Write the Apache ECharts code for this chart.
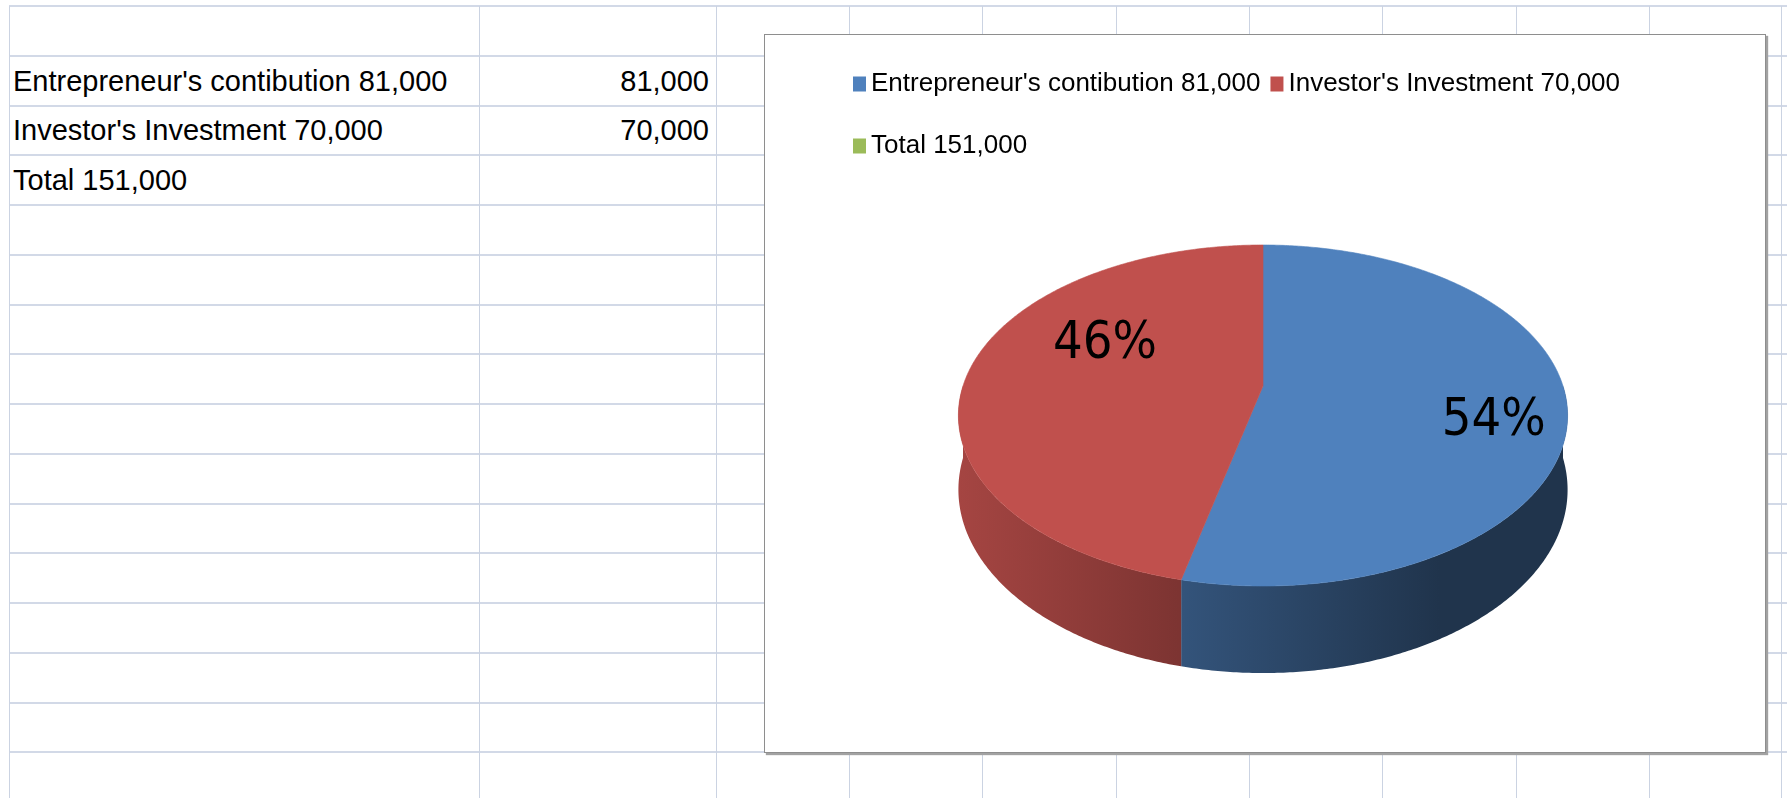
<!DOCTYPE html>
<html>
<head>
<meta charset="utf-8">
<title>Investment split</title>
<script src="https://cdn.jsdelivr.net/npm/echarts@6/dist/echarts.min.js"></script>
<style>
    html, body { margin: 0; padding: 0; background: #fff; overflow: hidden; }
    #sheet { position: absolute; left: 0; top: 0; width: 1787px; height: 798px; overflow: hidden; }
    .hl { position: absolute; height: 2px; background: #d2d9e7; }
    .vl { position: absolute; width: 1px; background: #cbd3e2; }
    .cell {
        position: absolute; white-space: nowrap; color: #000;
        font-family: "Liberation Sans", Arial, sans-serif; font-size: 29px; line-height: 29px;
    }
    #box {
        position: absolute; left: 764px; top: 34px; width: 1000px; height: 717px;
        background: #fff; border: 1px solid #8e8e8e; box-shadow: 2px 2px 1px #a2a2a2;
    }
    #chart { width: 1000px; height: 717px; }
</style>
</head>
<body>
<div id="sheet"></div>
<div id="box"><div id="chart"></div></div>
<script>
// sheet rows / chart data
var categories = ["Entrepreneur's contibution 81,000", "Investor's Investment 70,000", "Total 151,000"];
var values = [81000, 70000, null];
var valueLabels = ['81,000', '70,000', ''];
var colors = ['#4F81BD', '#C0504D', '#9BBB59'];

/* ---------- spreadsheet background ---------- */
var sheet = document.getElementById('sheet');
var rowTop = 6, rowH = 49.75, rowCount = 16;
var colX = [9, 479, 716, 849, 982, 1116, 1249, 1382, 1516, 1649, 1781];

for (var r = 0; r < rowCount; r++) {
    var h = document.createElement('div');
    h.className = 'hl';
    h.style.left = '9px';
    h.style.width = '1778px';
    h.style.top = Math.round(rowTop + r * rowH - 1) + 'px';
    sheet.appendChild(h);
}
colX.forEach(function(x) {
    var v = document.createElement('div');
    v.className = 'vl';
    v.style.left = x + 'px';
    v.style.top = rowTop + 'px';
    v.style.height = (798 - rowTop) + 'px';
    sheet.appendChild(v);
});

categories.forEach(function(name, i) {
    var bottom = rowTop + (i + 2) * rowH;
    var a = document.createElement('div');
    a.className = 'cell';
    a.textContent = name;
    a.style.left = '13px';
    a.style.top = Math.round(bottom - 39) + 'px';
    sheet.appendChild(a);

    if (valueLabels[i]) {
        var b = document.createElement('div');
        b.className = 'cell';
        b.textContent = valueLabels[i];
        b.style.right = (1787 - 709) + 'px';
        b.style.top = Math.round(bottom - 39) + 'px';
        sheet.appendChild(b);
    }
});

/* ---------- 3D pie (custom series) ---------- */
var pie = { cx: 498, cy: 351, rx: 300, ry: 165.4, persp: 0.173, depth: 72 };
// label placement per slice: radius fraction and angle shift from mid angle
var labelSpots = [{ r: 0.77, shift: 9 }, { r: 0.61, shift: 19 }, { r: 0.7, shift: 0 }];

var total = 0;
values.forEach(function(v) { total += v || 0; });
var starts = [];
var acc = 0;
values.forEach(function(v) { starts.push(acc / total * 360); acc += v || 0; });

function project(deg, r, z) {
    var a = deg * Math.PI / 180;
    var u = r * Math.sin(a), v = r * Math.cos(a);
    var f = 1 / (1 + pie.persp * v);
    return [pie.cx + pie.rx * u * f, pie.cy - pie.ry * v * f + z * pie.depth * f];
}

function shade(hex, k) {
    var c = parseInt(hex.slice(1), 16);
    var rr = Math.round(((c >> 16) & 255) * k), gg = Math.round(((c >> 8) & 255) * k), bb = Math.round((c & 255) * k);
    return 'rgb(' + rr + ',' + gg + ',' + bb + ')';
}

function renderSlice(idx) {
    return function(params, api) {
        var val = api.value(0);
        if (!(val > 0)) return;
        var a0 = starts[idx], a1 = a0 + val / total * 360;
        var color = colors[idx];
        var children = [];

        // side wall, front half only
        var w0 = Math.max(a0, 90), w1 = Math.min(a1, 270);
        if (w1 > w0) {
            var n = Math.ceil(w1 - w0) * 2, topPts = [], botPts = [];
            for (var k = 0; k <= n; k++) {
                var d = w0 + (w1 - w0) * k / n;
                topPts.push(project(d, 1, 0));
                botPts.unshift(project(d, 1, 1));
            }
            var half = pie.rx * 1.016;
            var grad = new echarts.graphic.LinearGradient(pie.cx - half, 0, pie.cx + half, 0, [
                { offset: 0, color: shade(color, 0.86) },
                { offset: 0.79, color: shade(color, 0.40) },
                { offset: 1, color: shade(color, 0.40) }
            ], true);
            children.push({
                type: 'polygon',
                shape: { points: topPts.concat(botPts) },
                style: { fill: grad, stroke: null }
            });
        }

        // top face
        var pts = [project(0, 0, 0)];
        var m = Math.ceil(a1 - a0) * 2;
        for (var j = 0; j <= m; j++) pts.push(project(a0 + (a1 - a0) * j / m, 1, 0));
        children.push({
            type: 'polygon',
            shape: { points: pts },
            style: { fill: color, stroke: color, lineWidth: 0.6 }
        });

        // percent label
        var spot = labelSpots[idx];
        var p = project((a0 + a1) / 2 + spot.shift, spot.r, 0);
        children.push({
            type: 'text',
            style: {
                text: Math.round(val / total * 100) + '%',
                x: p[0], y: p[1],
                align: 'center', verticalAlign: 'middle',
                fontSize: 52, fontFamily: '"Liberation Sans Narrow", "DejaVu Sans Condensed", sans-serif',
                fill: '#000'
            }
        });

        return { type: 'group', children: children };
    };
}

var legendBase = {
    left: 88,
    orient: 'horizontal',
    icon: 'rect',
    itemWidth: 13,
    itemHeight: 15,
    itemGap: 10,
    padding: 0,
    selectedMode: false,
    textStyle: { fontFamily: '"Liberation Sans", Arial, sans-serif', fontSize: 26, color: '#000' }
};

var myChart = echarts.init(document.getElementById('chart'));
myChart.setOption({
    animation: false,
    color: colors,
    legend: [
        Object.assign({}, legendBase, { top: 36, data: [categories[0], categories[1]] }),
        Object.assign({}, legendBase, { top: 98, data: [categories[2]] })
    ],
    series: categories.map(function(name, i) {
        return {
            type: 'custom',
            name: name,
            coordinateSystem: 'none',
            silent: true,
            itemStyle: { color: colors[i] },
            renderItem: renderSlice(i),
            data: [[values[i] == null ? 0 : values[i]]]
        };
    })
});
</script>
</body>
</html>
